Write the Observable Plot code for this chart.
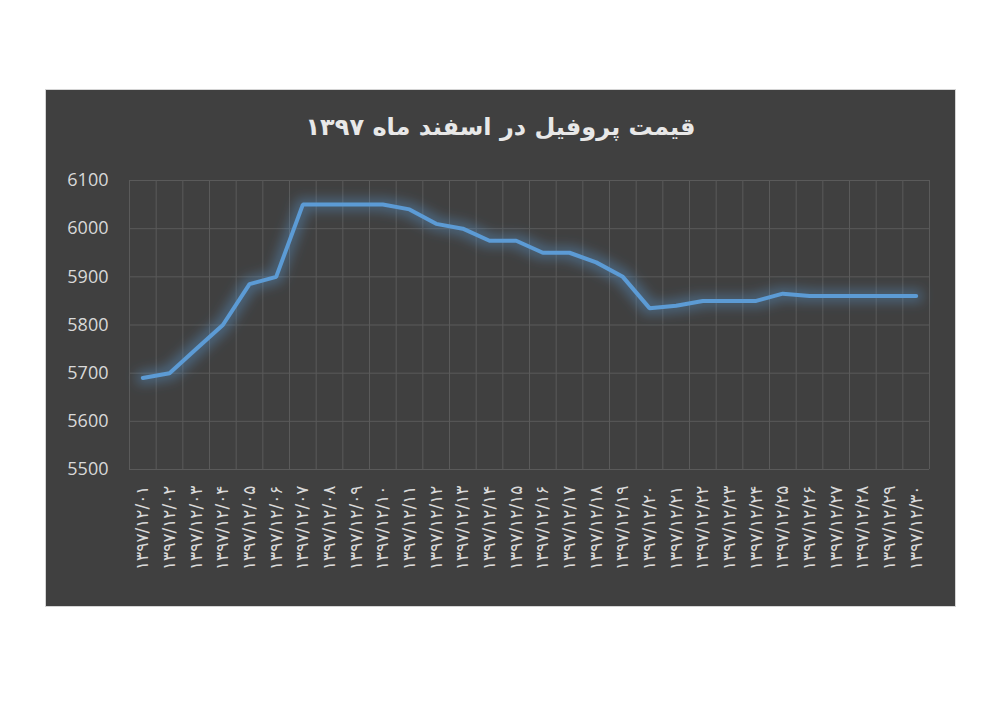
<!DOCTYPE html>
<html><head><meta charset="utf-8">
<script src="https://cdn.jsdelivr.net/npm/d3@7"></script>
<script src="https://cdn.jsdelivr.net/npm/@observablehq/plot@0.6"></script>
<style>
html,body{margin:0;padding:0;background:#fff;}
body{width:1000px;height:701px;overflow:hidden;position:relative;}
#panel{position:absolute;left:46px;top:90px;width:909px;height:516px;background:#404040;box-shadow:0 0 0 1px #d4d4d4;}
#title{position:absolute;left:0;top:17px;width:909px;height:40px;line-height:40px;text-align:center;direction:rtl;
  font-family:"DejaVu Sans",sans-serif;font-weight:bold;font-size:24px;color:#e8e8e8;}
#chart{position:absolute;left:0;top:70px;}
#chart g[aria-label="x-axis tick label"] text{letter-spacing:1.5px;}
</style></head>
<body>
<div id="panel">
  <div id="title">قیمت پروفیل در اسفند ماه ۱۳۹۷</div>
  <div id="chart"></div>
</div>
<script>
const titleText = "قیمت پروفیل در اسفند ماه ۱۳۹۷";
const days = ["۱۳۹۷/۱۲/۰۱","۱۳۹۷/۱۲/۰۲","۱۳۹۷/۱۲/۰۳","۱۳۹۷/۱۲/۰۴","۱۳۹۷/۱۲/۰۵","۱۳۹۷/۱۲/۰۶","۱۳۹۷/۱۲/۰۷","۱۳۹۷/۱۲/۰۸","۱۳۹۷/۱۲/۰۹","۱۳۹۷/۱۲/۱۰",
  "۱۳۹۷/۱۲/۱۱","۱۳۹۷/۱۲/۱۲","۱۳۹۷/۱۲/۱۳","۱۳۹۷/۱۲/۱۴","۱۳۹۷/۱۲/۱۵","۱۳۹۷/۱۲/۱۶","۱۳۹۷/۱۲/۱۷","۱۳۹۷/۱۲/۱۸","۱۳۹۷/۱۲/۱۹","۱۳۹۷/۱۲/۲۰",
  "۱۳۹۷/۱۲/۲۱","۱۳۹۷/۱۲/۲۲","۱۳۹۷/۱۲/۲۳","۱۳۹۷/۱۲/۲۴","۱۳۹۷/۱۲/۲۵","۱۳۹۷/۱۲/۲۶","۱۳۹۷/۱۲/۲۷","۱۳۹۷/۱۲/۲۸","۱۳۹۷/۱۲/۲۹","۱۳۹۷/۱۲/۳۰"];
const prices = [5690,5700,5750,5800,5885,5900,6050,6050,6050,6050,
  6040,6010,6000,5975,5975,5950,5950,5930,5900,5835,
  5840,5850,5850,5850,5865,5860,5860,5860,5860,5860];
const yTicks = [5500,5600,5700,5800,5900,6000,6100];

document.getElementById("title").textContent = titleText;
const n = days.length;
const data = prices.map((v,i)=>({idx:i+1, day:days[i], price:v}));
const gridX = d3.range(0, n+1).map(i=>i+0.5);

const chart = Plot.plot({
  width:909, height:446,
  marginTop:20, marginBottom:137, marginLeft:83, marginRight:26,
  style:{background:"transparent", color:"#d9d9d9", overflow:"visible"},
  x:{type:"linear", domain:[0.5, n+0.5]},
  y:{domain:[5500,6100]},
  marks:[
    Plot.ruleY(yTicks, {stroke:"#5a5a5a", strokeWidth:1}),
    Plot.ruleX(gridX, {stroke:"#5a5a5a", strokeWidth:1}),
    Plot.axisY({ticks:yTicks, tickFormat:d=>String(d), tickSize:0, tickPadding:21, fontSize:18, fontFamily:"Open Sans, sans-serif", label:null, fill:"#d9d9d9"}),
    Plot.axisX({ticks:data.map(d=>d.idx), tickFormat:i=>days[i-1], tickRotate:-90, tickSize:0, tickPadding:16, fontSize:17, fontFamily:"DejaVu Sans, sans-serif", label:null, fill:"#d9d9d9"}),
    Plot.lineY(data, {x:"idx", y:"price", stroke:"#5b9bd5", strokeWidth:4, strokeLinejoin:"miter", strokeLinecap:"round"})
  ]
});
document.getElementById("chart").appendChild(chart);

// glow effect
const ns = "http://www.w3.org/2000/svg";
const defs = document.createElementNS(ns,"defs");
defs.innerHTML = `<filter id="glow" filterUnits="userSpaceOnUse" x="0" y="0" width="909" height="446">
  <feMorphology in="SourceAlpha" operator="dilate" radius="4" result="d"/>
  <feGaussianBlur in="d" stdDeviation="6" result="b"/>
  <feFlood flood-color="#5b9bd5" flood-opacity="0.4" result="c"/>
  <feComposite in="c" in2="b" operator="in" result="g"/>
  <feMerge><feMergeNode in="g"/><feMergeNode in="SourceGraphic"/></feMerge>
</filter>`;
chart.insertBefore(defs, chart.firstChild);
const lineG = chart.querySelector('g[aria-label="line"]');
if (lineG) lineG.setAttribute("filter","url(#glow)");
</script>
</body></html>
